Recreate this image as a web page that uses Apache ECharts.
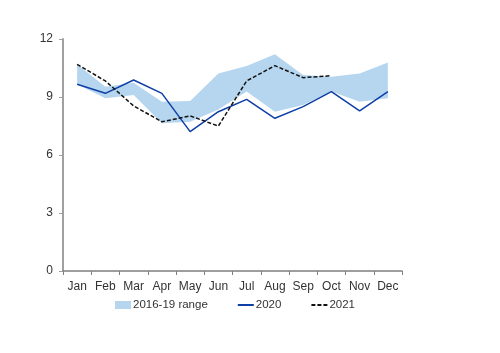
<!DOCTYPE html>
<html lang="en">
<head>
  <meta charset="UTF-8">
  <title>range-chart</title>
  <script src="https://cdn.jsdelivr.net/npm/echarts@6/dist/echarts.min.js"></script>
  <style>
    html, body {
      margin: 0;
      padding: 0;
      background: #fff;
    }

    #chart-main {
      width: 500px;
      height: 353px;
    }
  </style>
</head>
<body>
<div id="chart-main"></div>

<script type="text/javascript">
  // data
  const months = ['Jan', 'Feb', 'Mar', 'Apr', 'May', 'Jun', 'Jul', 'Aug', 'Sep', 'Oct', 'Nov', 'Dec']
  const rangeLow = [9.66, 8.93, 9.1, 7.64, 7.72, 8.35, 9.28, 8.24, 8.59, 9.28, 8.76, 8.93]
  const rangeHigh = [10.69, 9.53, 9.74, 8.76, 8.79, 10.22, 10.6, 11.21, 10.14, 10.05, 10.22, 10.78]
  const y2020 = [9.66, 9.19, 9.88, 9.19, 7.21, 8.24, 8.88, 7.9, 8.5, 9.28, 8.28, 9.28]
  const y2021 = [10.69, 9.83, 8.54, 7.72, 8.02, 7.5, 9.83, 10.62, 10.0, 10.1]
  const yTicks = [0, 3, 6, 9, 12]

  const rangeSpan = rangeHigh.map((v, i) => +(v - rangeLow[i]).toFixed(2))

  let echartItem = echarts.init(document.getElementById('chart-main'))

  const font = 'Liberation Sans'

  let option = {
    animation: false,
    textStyle: {
      fontFamily: font
    },
    grid: {
      left: 63,
      right: 98,
      top: 39,
      bottom: 82
    },
    legend: {
      top: 294,
      left: 110,
      itemGap: 29,
      itemWidth: 16,
      itemHeight: 8,
      textStyle: {
        fontFamily: font,
        fontSize: 11.5,
        color: '#333',
        padding: [0, 0, 0, -3]
      },
      data: [
        {name: '2016-19 range', icon: 'rect'},
        {name: '2020', itemStyle: {opacity: 0}},
        {name: '2021', itemStyle: {opacity: 0}}
      ]
    },
    xAxis: {
      type: 'category',
      data: months,
      boundaryGap: true,
      axisLine: {
        lineStyle: {color: '#7f7f7f', width: 1.5}
      },
      axisTick: {
        show: true,
        length: 4,
        lineStyle: {color: '#7f7f7f'}
      },
      axisLabel: {
        color: '#333',
        fontSize: 12,
        margin: 10,
        interval: 0
      }
    },
    yAxis: {
      type: 'value',
      min: yTicks[0],
      max: yTicks[yTicks.length - 1],
      interval: 3,
      splitLine: {show: false},
      axisLine: {
        show: true,
        lineStyle: {color: '#a0a0a0', width: 2}
      },
      axisTick: {
        show: true,
        length: 4,
        lineStyle: {color: '#a0a0a0'}
      },
      axisLabel: {
        color: '#333',
        fontSize: 12,
        margin: 10
      }
    },
    series: [
      {
        name: 'base',
        type: 'line',
        stack: 'range',
        data: rangeLow,
        symbol: 'none',
        lineStyle: {opacity: 0},
        silent: true
      },
      {
        name: '2016-19 range',
        type: 'line',
        stack: 'range',
        data: rangeSpan,
        symbol: 'none',
        color: '#b6d6ef',
        lineStyle: {opacity: 0},
        areaStyle: {color: '#b6d6ef', opacity: 1}
      },
      {
        name: '2020',
        type: 'line',
        data: y2020,
        symbol: 'none',
        color: '#0d3fa6',
        lineStyle: {color: '#0d3fa6', width: 1.5}
      },
      {
        name: '2021',
        type: 'line',
        data: y2021,
        symbol: 'none',
        color: '#111',
        lineStyle: {color: '#111', width: 1.5, type: [4, 2]}
      }
    ]
  }

  echartItem.setOption(option)
</script>
</body>
</html>
